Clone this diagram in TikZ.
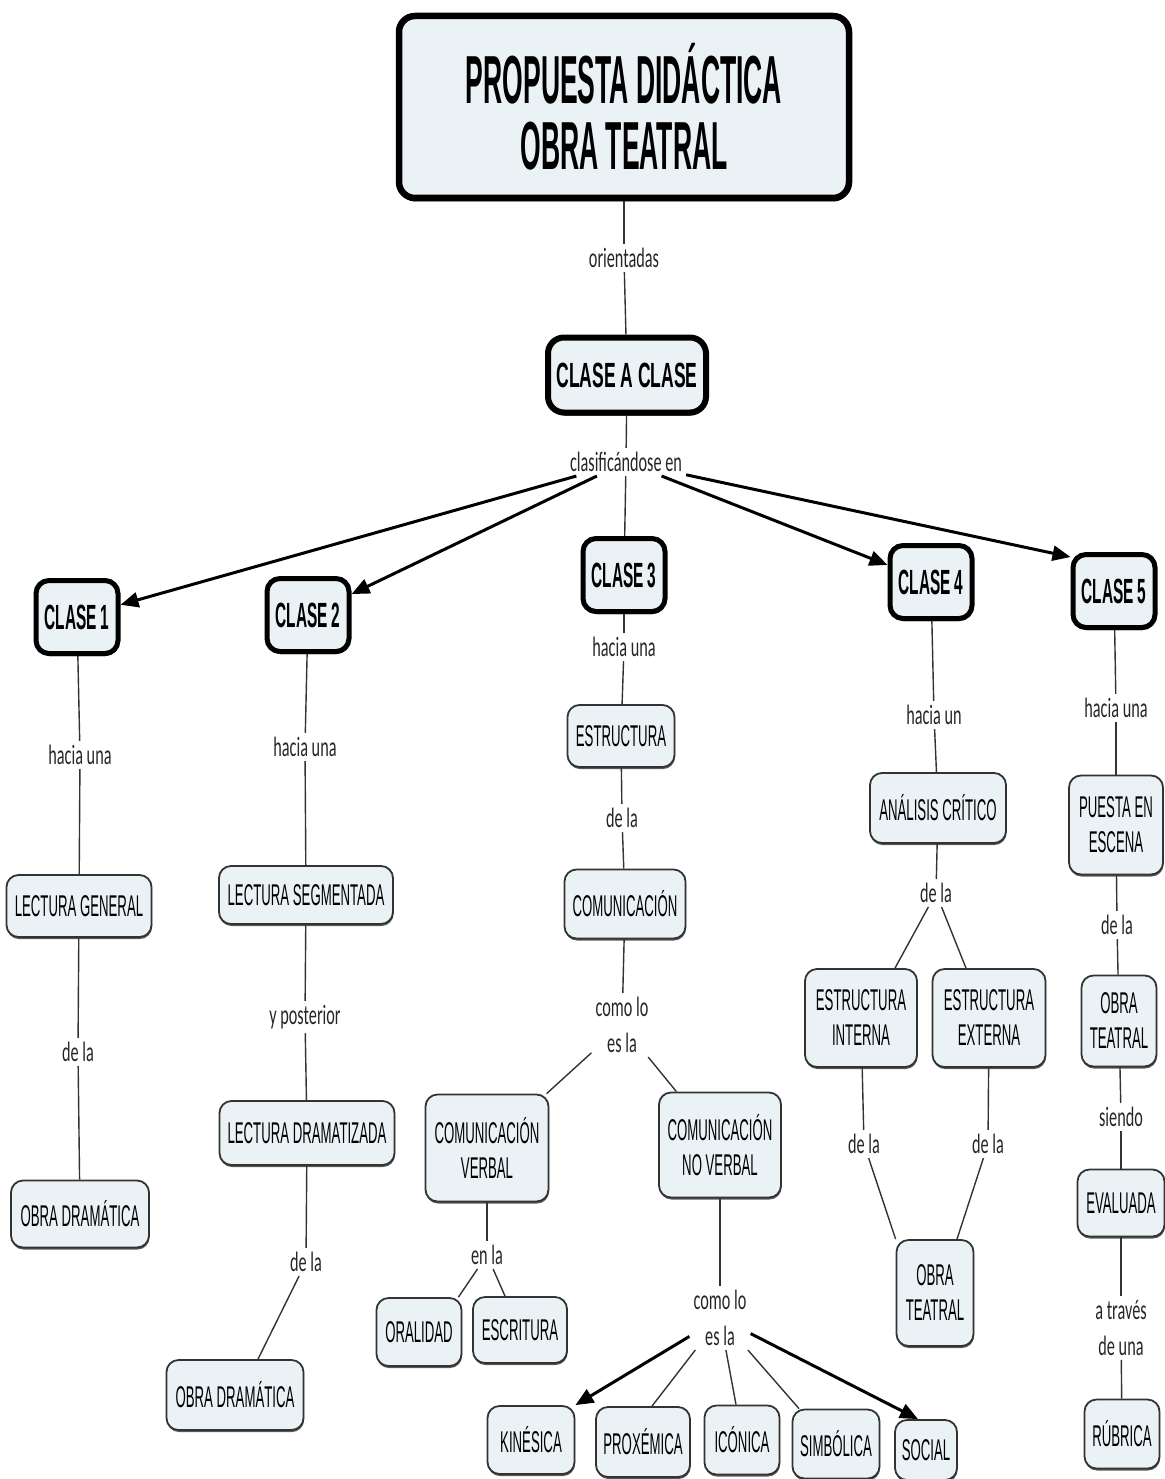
\documentclass[tikz,border=0pt]{standalone}
\usepackage{fontspec}
\newfontfamily\nodefont[FakeStretch=0.44]{Liberation Sans}
\newfontfamily\clasefont[FakeStretch=0.44]{Liberation Sans}
\newfontfamily\cacfont[FakeStretch=0.50]{Liberation Sans}
\newfontfamily\titlefont[FakeStretch=0.39]{Liberation Sans}
\newfontfamily\labelfont[FakeStretch=0.58]{Carlito}
\usetikzlibrary{arrows.meta,shadows}
\definecolor{boxfill}{RGB}{235,242,245}
\tikzset{
  box/.style={draw=black!80, line width=1.8pt, fill=boxfill, rounded corners=12pt,
    align=center, inner sep=0pt, font=\nodefont\fontsize{30}{35}\selectfont,
    drop shadow={shadow xshift=0.5pt, shadow yshift=-2pt, fill=black!65, opacity=1}},
  wh/.style 2 args={minimum width=#1, minimum height=#2},
  clasebox/.style={box, draw=black, line width=5pt, rounded corners=13pt,
    font=\clasefont\bfseries\fontsize{35}{40}\selectfont,
    drop shadow={shadow xshift=0.5pt, shadow yshift=-2.5pt, fill=black, opacity=1}},
  lab/.style={font=\labelfont\fontsize{28}{36}\selectfont, align=center, inner sep=4pt, text=black!85},
  ln/.style={draw=black!80, line width=1.4pt},
  arr/.style={draw=black, line width=3pt, -{Triangle[length=18pt,width=15pt]}},
}
\begin{document}
\begin{tikzpicture}[x=1pt,y=-1pt]
\useasboundingbox (0,0) rectangle (1164,1479);

% top
\node[box, draw=black, line width=6.5pt, rounded corners=16pt, wh={450pt}{182pt},
  font=\titlefont\bfseries\fontsize{68}{66}\selectfont,
  drop shadow={shadow xshift=0.5pt, shadow yshift=-3.5pt, fill=black, opacity=1}]
  (T) at (624,107) {PROPUESTA DIDÁCTICA\\OBRA TEATRAL};
\node[lab] (lor) at (624,258) {orientadas};
\node[box, draw=black, line width=6pt, rounded corners=16pt, wh={158pt}{75pt},
  font=\cacfont\bfseries\fontsize{35}{40}\selectfont,
  drop shadow={shadow xshift=0.5pt, shadow yshift=-3pt, fill=black, opacity=1}]
  (CAC) at (627,375) {CLASE A CLASE};
\node[lab] (lclas) at (626,462) {clasificándose en};

% clases
\node[clasebox, wh={82pt}{73pt}] (C1) at (77,617) {CLASE 1};
\node[clasebox, wh={82pt}{73pt}] (C2) at (308,615) {CLASE 2};
\node[clasebox, wh={82pt}{73pt}] (C3) at (624,575) {CLASE 3};
\node[clasebox, wh={82pt}{73pt}] (C4) at (931,582) {CLASE 4};
\node[clasebox, wh={82pt}{73pt}] (C5) at (1114,591) {CLASE 5};

% column 1
\node[lab] (l1a) at (80,755) {hacia una};
\node[box, wh={145pt}{62pt}] (LG) at (79,906) {LECTURA GENERAL};
\node[lab] (l1b) at (78,1052) {de la};
\node[box, wh={138pt}{67pt}] (OD1) at (80,1214) {OBRA DRAMÁTICA};

% column 2
\node[lab] (l2a) at (305,747) {hacia una};
\node[box, wh={174pt}{58pt}] (LS) at (306,895) {LECTURA SEGMENTADA};
\node[lab] (l2b) at (305,1017) {y posterior};
\node[box, wh={175pt}{64pt}] (LD) at (307,1133) {LECTURA DRAMATIZADA};
\node[lab] (l2c) at (306,1262) {de la};
\node[box, wh={137pt}{70pt}] (OD2) at (235,1395) {OBRA DRAMÁTICA};

% column 3
\node[lab] (l3a) at (624,647) {hacia una};
\node[box, wh={107pt}{62pt}] (EST) at (621,736) {ESTRUCTURA};
\node[lab] (l3b) at (622,818) {de la};
\node[box, wh={121pt}{69pt}] (COM) at (625,904) {COMUNICACIÓN};
\node[lab] (l3c) at (622,1025) {como lo\\es la};
\node[box, wh={123pt}{107pt}] (CV) at (487,1148) {COMUNICACIÓN\\VERBAL};
\node[box, wh={122pt}{105pt}] (CNV) at (720,1145) {COMUNICACIÓN\\NO VERBAL};
\node[lab] (l3d) at (487,1255) {en la};
\node[box, wh={85pt}{68pt}] (ORA) at (419,1332) {ORALIDAD};
\node[box, wh={94pt}{66pt}] (ESC) at (520,1330) {ESCRITURA};
\node[lab] (l3e) at (720,1318) {como lo\\es la};
\node[box, wh={87pt}{68pt}] (KIN) at (531,1440) {KINÉSICA};
\node[box, wh={94pt}{70pt}] (PRO) at (643,1442) {PROXÉMICA};
\node[box, wh={75pt}{69pt}] (ICO) at (742,1440) {ICÓNICA};
\node[box, wh={87pt}{69pt}] (SIM) at (836,1444) {SIMBÓLICA};
\node[box, wh={62pt}{60pt}] (SOC) at (926,1450) {SOCIAL};

% column 4
\node[lab] (l4a) at (934,715) {hacia un};
\node[box, wh={136pt}{70pt}] (AC) at (938,808) {ANÁLISIS CRÍTICO};
\node[lab] (l4b) at (936,893) {de la};
\node[box, wh={112pt}{98pt}] (EI) at (861,1018) {ESTRUCTURA\\INTERNA};
\node[box, wh={113pt}{98pt}] (EE) at (989,1018) {ESTRUCTURA\\EXTERNA};
\node[lab] (l4c) at (864,1144) {de la};
\node[lab] (l4d) at (988,1144) {de la};
\node[box, wh={77pt}{106pt}] (OT1) at (935,1293) {OBRA\\TEATRAL};

% column 5
\node[lab] (l5a) at (1116,708) {hacia una};
\node[box, wh={94pt}{99pt}] (PE) at (1116,825) {PUESTA EN\\ESCENA};
\node[lab] (l5b) at (1117,925) {de la};
\node[box, wh={75pt}{91pt}] (OT2) at (1119,1021) {OBRA\\TEATRAL};
\node[lab] (l5c) at (1121,1117) {siendo};
\node[box, wh={87pt}{67pt}] (EVA) at (1121,1203) {EVALUADA};
\node[lab] (l5d) at (1121,1328) {a través\\de una};
\node[box, wh={75pt}{69pt}] (RUB) at (1122,1434) {RÚBRICA};

% connectors top
\draw[ln] (T) -- (lor);
\draw[ln] (lor) -- (CAC);
\draw[ln] (CAC) -- (lclas);
\draw[arr] (lclas) -- (C1);
\draw[arr] (lclas) -- (C2);
\draw[ln] (lclas) -- (C3);
\draw[arr] (lclas) -- (C4);
\draw[arr] (lclas) -- ([yshift=-5pt]C5.north west);

% col 1
\draw[ln] (C1) -- (l1a);
\draw[ln] (l1a) -- (LG);
\draw[ln] (LG) -- (l1b);
\draw[ln] (l1b) -- (OD1);
% col 2
\draw[ln] (C2) -- (l2a);
\draw[ln] (l2a) -- (LS);
\draw[ln] (LS) -- (l2b);
\draw[ln] (l2b) -- (LD);
\draw[ln] (LD) -- (l2c);
\draw[ln] (l2c) -- ([xshift=23pt]OD2.north);
% col 3
\draw[ln] (C3) -- (l3a);
\draw[ln] (l3a) -- (EST);
\draw[ln] (EST) -- (l3b);
\draw[ln] (l3b) -- (COM);
\draw[ln] (COM) -- (l3c);
\draw[ln] (l3c) -- (CV);
\draw[ln] (l3c) -- (CNV);
\draw[ln] (CV) -- (l3d);
\draw[ln] (l3d) -- ([xshift=-4pt]ORA.north east);
\draw[ln] (l3d) -- ([xshift=-15pt]ESC.north);
\draw[ln] (CNV) -- (l3e);
\draw[arr] (l3e) -- (KIN.north east);
\draw[ln] (l3e) -- ([xshift=9pt]PRO.north);
\draw[ln] (l3e) -- ([xshift=-6pt]ICO.north);
\draw[ln] (l3e) -- ([xshift=-37pt]SIM.north);
\draw[arr] (l3e) -- ([xshift=-8pt]SOC.north);
% col 4
\draw[ln] (C4) -- (l4a);
\draw[ln] (l4a) -- (AC);
\draw[ln] (AC) -- (l4b);
\draw[ln] (l4b) -- ([xshift=34pt]EI.north);
\draw[ln] (l4b) -- ([xshift=-23pt]EE.north);
\draw[ln] (EI) -- (l4c);
\draw[ln] (EE) -- (l4d);
\draw[ln] (l4c) -- (OT1.north west);
\draw[ln] (l4d) -- ([xshift=22pt]OT1.north);
% col 5
\draw[ln] (C5) -- (l5a);
\draw[ln] (l5a) -- (PE);
\draw[ln] (PE) -- (l5b);
\draw[ln] (l5b) -- (OT2);
\draw[ln] (OT2) -- (l5c);
\draw[ln] (l5c) -- (EVA);
\draw[ln] (EVA) -- (l5d);
\draw[ln] (l5d) -- (RUB);
\end{tikzpicture}
\end{document}
